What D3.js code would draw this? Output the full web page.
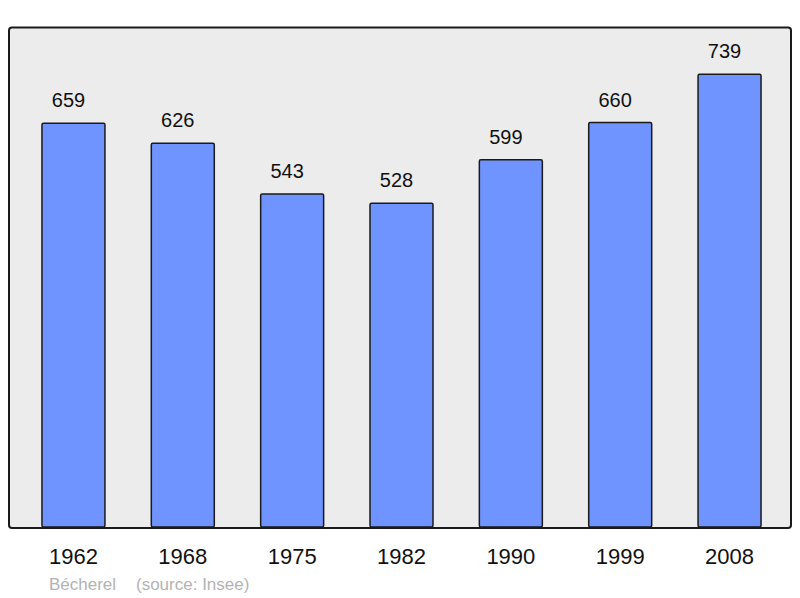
<!DOCTYPE html>
<html>
<head>
<meta charset="utf-8">
<script src="https://cdn.jsdelivr.net/npm/d3@7"></script>
<style>
  body { margin: 0; background: #fff; }
  svg text { font-family: "Liberation Sans", Arial, sans-serif; }
</style>
</head>
<body>
<svg id="chart" width="800" height="598"></svg>
<script>
// population by census year
const years = ['1962', '1968', '1975', '1982', '1990', '1999', '2008'];
const population = [659, 626, 543, 528, 599, 660, 739];
const place = 'Bécherel';
const source = '(source: Insee)';

const svg = d3.select('#chart');

// panel
svg.append('rect')
    .attr('x', 9)
    .attr('y', 27.5)
    .attr('width', 782)
    .attr('height', 500.5)
    .attr('rx', 3)
    .style('fill', '#ececec')
    .style('stroke', '#1a1a1a')
    .style('stroke-width', 2);

let x = d3.scaleBand()
    .domain(years)
    .range([19, 784])
    .paddingInner(0.424)
    .paddingOuter(0.21);

let y = d3.scaleLinear()
    .domain([0, 800])
    .range([526, 37]);

let rows = years.map((yr, i) => ({ year: yr, value: population[i] }));

svg.selectAll('rect.bar')
    .data(rows)
    .enter()
    .append('rect')
    .attr('class', 'bar')
    .attr('x', d => x(d.year))
    .attr('y', d => y(d.value))
    .attr('width', x.bandwidth())
    .attr('height', d => y(0) - y(d.value) + 1)
    .attr('rx', 1.5)
    .style('fill', '#7094ff')
    .style('stroke', '#1a1a1a')
    .style('stroke-width', 1.5);

// value labels above the bars (sit a bit left of centre, as in the original)
svg.selectAll('text.val')
    .data(rows)
    .enter()
    .append('text')
    .attr('class', 'val')
    .attr('x', d => x(d.year) + x.bandwidth() / 2 - 5)
    .attr('y', d => y(d.value) - 16)
    .attr('text-anchor', 'middle')
    .style('font-size', '20px')
    .style('fill', '#111')
    .text(d => d.value);

// year axis, drawn without line or ticks
let xAxis = svg.append('g')
    .attr('transform', 'translate(0,528)')
    .call(d3.axisBottom(x).tickSize(0).tickPadding(0));
xAxis.select('.domain').remove();
xAxis.selectAll('text')
    .attr('dy', 0)
    .attr('y', 36)
    .style('font-family', '"Liberation Sans", Arial, sans-serif')
    .style('font-size', '22px')
    .style('fill', '#111');

// footer
svg.append('text')
    .attr('x', 49)
    .attr('y', 590)
    .style('font-size', '17px')
    .style('fill', '#b3b3b3')
    .text(place);

svg.append('text')
    .attr('x', 136)
    .attr('y', 590)
    .style('font-size', '17px')
    .style('fill', '#b3b3b3')
    .text(source);
</script>
</body>
</html>
